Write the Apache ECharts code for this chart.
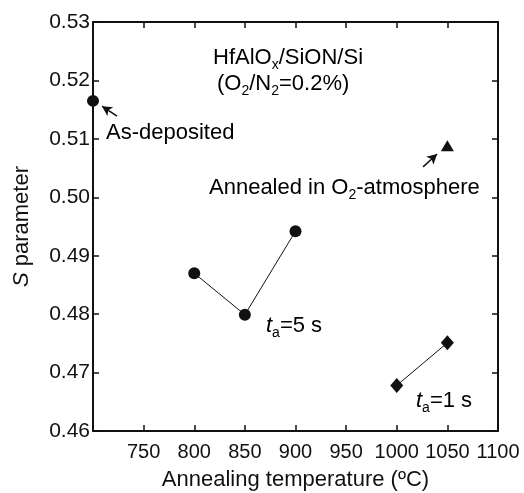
<!DOCTYPE html>
<html>
<head>
<meta charset="utf-8">
<script src="https://cdn.jsdelivr.net/npm/echarts@6/dist/echarts.min.js"></script>
<style>
  html, body { margin: 0; padding: 0; background: #fff; }
  #chart { width: 524px; height: 493px; }
</style>
</head>
<body>
<div id="chart"></div>
<script>
// values
const asDeposited = [[700, 0.5165]];
const anneal5s = [[800, 0.4870], [850, 0.4799], [900, 0.4942]];
const anneal1s = [[1000, 0.4678], [1050, 0.4751]];
const annealO2 = [[1050, 0.5088]];
// arrows pointing at the two single points
const arrowAsDep = [[723.7, 0.5139], [708.9, 0.5156]];
const arrowO2 = [[1026, 0.5052], [1039.9, 0.5074]];

const FONT = '"Liberation Sans", Arial, sans-serif';
const fs = 22;

const chart = echarts.init(document.getElementById('chart'));

const baseRich = {
  n: { fontSize: fs, fontFamily: FONT, color: '#111', verticalAlign: 'top', lineHeight: 24 },
  i: { fontSize: fs, fontFamily: FONT, fontStyle: 'italic', color: '#111', verticalAlign: 'top', lineHeight: 24 },
  s: { fontSize: 14, fontFamily: FONT, color: '#111', verticalAlign: 'top', padding: [11, 0, 0, 0] }
};

function txt(x, y, rich) {
  return {
    type: 'text', left: x, top: y,
    style: { text: rich, rich: baseRich }
  };
}

const axisCommon = {
  axisLine: { lineStyle: { color: '#111', width: 2 } },
  axisTick: { inside: true, length: 6, lineStyle: { color: '#111', width: 1.5 } },
  splitLine: { show: false }
};

const solid = { color: '#111', opacity: 1 };

chart.setOption({
  animation: false,
  grid: { left: 93, right: 26, top: 22, bottom: 62, outerBoundsMode: 'none', containLabel: false },
  xAxis: [
    Object.assign({
      type: 'value', min: 700, max: 1100, interval: 50,
      name: 'Annealing temperature (ºC)', nameLocation: 'middle', nameGap: 38,
      nameTextStyle: { fontSize: fs, fontFamily: FONT, color: '#111' },
      axisLabel: {
        fontSize: 20, fontFamily: FONT, color: '#111', margin: 11,
        formatter: v => (v === 700 ? '' : String(v))
      }
    }, axisCommon),
    Object.assign({
      type: 'value', min: 700, max: 1100, interval: 50, position: 'top',
      axisLabel: { show: false }
    }, axisCommon)
  ],
  yAxis: [
    Object.assign({
      type: 'value', min: 0.46, max: 0.53, interval: 0.01,
      name: '{i|S}{n| parameter}', nameLocation: 'middle', nameGap: 60,
      nameTextStyle: {
        fontSize: fs, fontFamily: FONT, color: '#111',
        rich: {
          i: { fontSize: fs, fontFamily: FONT, fontStyle: 'italic', color: '#111' },
          n: { fontSize: fs, fontFamily: FONT, color: '#111' }
        }
      },
      axisLabel: {
        fontSize: 21, fontFamily: FONT, color: '#111', margin: 3,
        formatter: v => v.toFixed(2)
      }
    }, axisCommon),
    Object.assign({
      type: 'value', min: 0.46, max: 0.53, interval: 0.01, position: 'right',
      axisLabel: { show: false }
    }, axisCommon)
  ],
  series: [
    {
      type: 'scatter', data: asDeposited, symbol: 'circle', symbolSize: 12,
      itemStyle: solid, clip: false,
      markLine: {
        silent: true, symbol: ['none', 'arrow'], symbolSize: [8, 10],
        lineStyle: { color: '#111', width: 1.5, type: 'solid' }, label: { show: false },
        data: [[{ coord: arrowAsDep[0] }, { coord: arrowAsDep[1] }]]
      }
    },
    {
      type: 'line', data: anneal5s, symbol: 'circle', symbolSize: 12,
      itemStyle: solid, lineStyle: { color: '#111', width: 1 }
    },
    {
      type: 'line', data: anneal1s, symbol: 'diamond', symbolSize: [13, 15],
      itemStyle: solid, lineStyle: { color: '#111', width: 1 }
    },
    {
      type: 'scatter', data: annealO2, symbol: 'triangle', symbolSize: [13, 11],
      itemStyle: solid,
      markLine: {
        silent: true, symbol: ['none', 'arrow'], symbolSize: [8, 10],
        lineStyle: { color: '#111', width: 1.5, type: 'solid' }, label: { show: false },
        data: [[{ coord: arrowO2[0] }, { coord: arrowO2[1] }]]
      }
    }
  ],
  graphic: [
    txt(213, 47, '{n|HfAlO}{s|x}{n|/SiON/Si}'),
    txt(217, 73, '{n|(O}{s|2}{n|/N}{s|2}{n|=0.2%)}'),
    txt(106, 122, '{n|As-deposited}'),
    txt(209, 177, '{n|Annealed in O}{s|2}{n|-atmosphere}'),
    txt(266, 315, '{i|t}{s|a}{n|=5 s}'),
    txt(416, 390, '{i|t}{s|a}{n|=1 s}')
  ]
});
</script>
</body>
</html>
